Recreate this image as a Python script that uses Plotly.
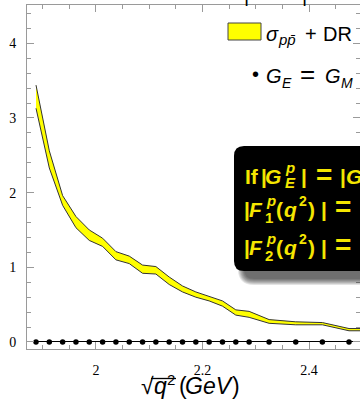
import plotly.graph_objects as go

# sqrt(q^2) bins (GeV) where the ratio is evaluated
sqrt_q2 = [1.8875, 1.9125, 1.9375, 1.9625, 1.9875, 2.0125, 2.0375, 2.0625,
           2.0875, 2.1125, 2.1375, 2.1625, 2.1875, 2.2125, 2.2375, 2.2625,
           2.2875, 2.325, 2.375, 2.425, 2.475, 2.525]
# sigma_pp + DR band edges
band_upper = [3.44, 2.56, 1.96, 1.68, 1.50, 1.39, 1.21, 1.15, 1.03, 1.01, 0.87,
              0.75, 0.67, 0.61, 0.55, 0.43, 0.41, 0.30, 0.27, 0.26, 0.18, 0.18]
band_lower = [3.13, 2.33, 1.83, 1.53, 1.36, 1.28, 1.10, 1.05, 0.92, 0.91, 0.77,
              0.67, 0.60, 0.55, 0.48, 0.36, 0.33, 0.25, 0.23, 0.23, 0.15, 0.15]

# G_E = G_M points
ge_gm_x = [1.8875, 1.9125, 1.9375, 1.9625, 1.9875, 2.0125, 2.0375, 2.0625,
           2.0875, 2.1125, 2.1375, 2.1625, 2.1875, 2.2125, 2.2375, 2.2625,
           2.2875, 2.325, 2.375, 2.425, 2.475]
ge_gm_y = [0.0] * len(ge_gm_x)

W, H = 360, 401
L, R, T, B = 27, 360, 5, 349


def pxx(x):
    return (x - L) / (R - L)


def pxy(y):
    return (B - y) / (B - T)


def rrect(x0, y0, x1, y1, r):
    pts = [
        ("M", (x0 + r, y0)), ("L", (x1 - r, y0)), ("Q", (x1, y0), (x1, y0 + r)),
        ("L", (x1, y1 - r)), ("Q", (x1, y1), (x1 - r, y1)), ("L", (x0 + r, y1)),
        ("Q", (x0, y1), (x0, y1 - r)), ("L", (x0, y0 + r)), ("Q", (x0, y0), (x0 + r, y0)),
    ]
    s = ""
    for p in pts:
        coords = " ".join(f"{pxx(a):.5f},{pxy(b):.5f}" for a, b in p[1:])
        s += f"{p[0]} {coords} "
    return s + "Z"


annotations = []


def frag(text, x, baseline, size, color="black", bold=False, italic=False,
         family="Liberation Sans", anchor="left"):
    """Place a text piece by its left edge (px) and baseline (px)."""
    t = text
    if italic:
        t = f"<i>{t}</i>"
    if bold:
        t = f"<b>{t}</b>"
    annotations.append(dict(
        xref="paper", yref="paper", x=pxx(x), y=pxy(baseline - 0.35 * size),
        xanchor=anchor, yanchor="middle", text=t, showarrow=False,
        font=dict(family=family, size=size, color=color), borderpad=0))


fig = go.Figure()

# band as a closed polygon
fig.add_trace(go.Scatter(
    x=sqrt_q2 + sqrt_q2[::-1],
    y=band_upper + band_lower[::-1],
    fill="toself", fillcolor="#FFFF00",
    line=dict(color="#333333", width=1),
    mode="lines", hoverinfo="skip", showlegend=False,
))

fig.add_trace(go.Scatter(
    x=ge_gm_x, y=ge_gm_y, mode="markers",
    marker=dict(color="black", size=5.5),
    showlegend=False, cliponaxis=False,
))

axis_col = "#9a9a9a"
tick_font = dict(family="Liberation Serif", size=14, color="black")

fig.update_xaxes(
    range=[1.8706, 2.4956], tickmode="linear", tick0=2.0, dtick=0.2,
    ticks="inside", ticklen=7, tickcolor=axis_col, showline=True,
    linecolor=axis_col, linewidth=1, mirror="ticks", showgrid=False,
    zeroline=False, tickfont=tick_font, ticklabelstandoff=8,
    minor=dict(tick0=2.0, dtick=0.05, ticks="inside", ticklen=4, tickcolor=axis_col),
)
fig.update_yaxes(
    range=[-0.094, 4.513], tickmode="linear", tick0=0, dtick=1,
    ticks="inside", ticklen=7, tickcolor=axis_col, showline=True,
    linecolor=axis_col, linewidth=1, mirror="ticks", showgrid=False,
    zeroline=True, zerolinecolor="black", zerolinewidth=1,
    tickfont=tick_font, ticklabelstandoff=7,
    minor=dict(tick0=0, dtick=0.2, ticks="inside", ticklen=4, tickcolor=axis_col),
)

shapes = []

# legend: band swatch and label
shapes.append(dict(type="rect", xref="paper", yref="paper",
                   x0=pxx(228), x1=pxx(261), y0=pxy(40), y1=pxy(23),
                   fillcolor="#FFFF00", line=dict(color="#444444", width=1)))
frag("σ", 264.5, 40.5, 20, italic=True)
frag("pp̄", 277, 45, 15, italic=True)
frag("+", 303.5, 40.5, 20)
frag("DR", 321.5, 40.5, 20)

# legend: points label
frag("•", 251, 81, 20)
frag("G", 265, 83.3, 20, italic=True)
frag("E", 281, 87.5, 14, italic=True)
frag("=", 307, 83.3, 26, anchor="center")
frag("G", 323.5, 83.3, 20, italic=True)
frag("M", 339.5, 88, 14, italic=True)

# shadow of the note box
for i in range(7):
    shapes.append(dict(type="path", xref="paper", yref="paper",
                       path=rrect(234 + 10 - i, 146 + 8 - i, 390 + i, 272 + 7 + i, 10 + i),
                       fillcolor="black", opacity=0.11, line=dict(width=0), layer="above"))
shapes.append(dict(type="path", xref="paper", yref="paper",
                   path=rrect(234, 146, 390, 271, 10),
                   fillcolor="black", line=dict(width=0), layer="above"))

yel = "#F5E600"
# line 1: If |G_E^p| = |G_M^p| ...
b1 = 184
frag("If", 244, b1, 21, yel, bold=True)
frag("|", 260, b1, 21, yel, bold=True)
frag("G", 264, b1, 21, yel, bold=True, italic=True)
frag("p", 284, b1 - 11, 15, yel, bold=True, italic=True)
frag("E", 283.5, b1 + 4, 15, yel, bold=True, italic=True)
frag("|", 299.5, b1, 21, yel, bold=True)
frag("=", 324, b1, 28, yel, bold=True, anchor="center")
frag("|", 338.5, b1, 21, yel, bold=True)
frag("G", 344.5, b1, 21, yel, bold=True, italic=True)

# lines 2 and 3: |F_i^p(q^2)| = ...
for b2, sub in ((216.5, "1"), (254.5, "2")):
    frag("|", 243.5, b2, 21, yel, bold=True)
    frag("F", 248, b2, 21, yel, bold=True, italic=True)
    frag("p", 265, b2 - 11, 15, yel, bold=True, italic=True)
    frag(sub, 264, b2 + 6, 15, yel, bold=True)
    frag("(", 275, b2, 21, yel, bold=True)
    frag("q", 282.5, b2, 21, yel, bold=True, italic=True)
    frag("2", 297.5, b2 - 11, 14, yel, bold=True)
    frag(")", 306.5, b2, 21, yel, bold=True)
    frag("|", 320, b2, 21, yel, bold=True)
    frag("=", 343, b2, 28, yel, bold=True, anchor="center")

# x-axis title: sqrt(q^2) (GeV)
bt = 394
frag("√", 139.5, bt, 23)
frag("q", 152.5, bt, 23, italic=True)
frag("2", 166, bt - 9, 15)
frag("(", 177.5, bt, 23)
frag("GeV", 184, bt, 23, italic=True)
frag(")", 230.5, bt, 23)
shapes.append(dict(type="line", xref="paper", yref="paper",
                   x0=pxx(151), x1=pxx(176), y0=pxy(378.5), y1=pxy(378.5),
                   line=dict(color="black", width=1.3)))

# bottom of the heading cut off above the frame
frag("|", 242.5, 1.8, 20)
frag("|", 300.5, 1.8, 20)

fig.update_layout(
    width=W, height=H, margin=dict(l=L, r=W - R, t=T, b=H - B),
    plot_bgcolor="white", paper_bgcolor="white",
    shapes=shapes, annotations=annotations, showlegend=False,
)

fig.write_html("out.html")
